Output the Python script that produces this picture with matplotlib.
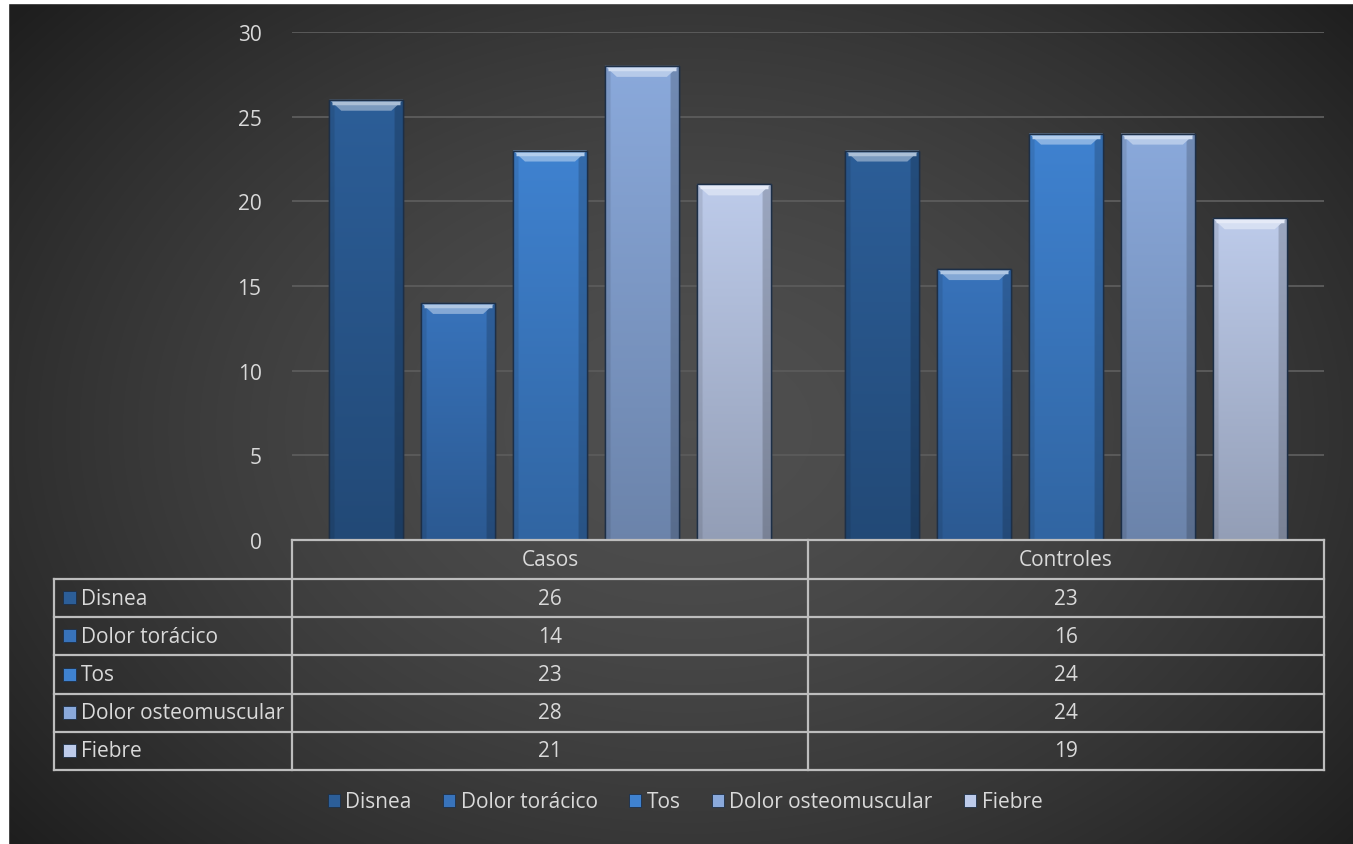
import numpy as np
import matplotlib
matplotlib.use("Agg")
import matplotlib.pyplot as plt
from matplotlib.patches import Rectangle, Polygon
from matplotlib.lines import Line2D

# ---------------- data ----------------
categories = ["Casos", "Controles"]
series_names = ["Disnea", "Dolor torácico", "Tos", "Dolor osteomuscular", "Fiebre"]
disnea = [26, 23]
dolor_toracico = [14, 16]
tos = [23, 24]
dolor_osteomuscular = [28, 24]
fiebre = [21, 19]
series_values = [disnea, dolor_toracico, tos, dolor_osteomuscular, fiebre]
series_colors = ["#2c5e98", "#3873bb", "#3f82d0", "#8aa9db", "#bdcbea"]
y_ticks = [0, 5, 10, 15, 20, 25, 30]

W, H = 1353, 845
DPI = 100
TXT = "#d9d9d9"
LINE = "#bdbdbd"
FONT = "Open Sans"
FS = 15

plt.rcParams["font.family"] = [FONT, "DejaVu Sans"]

fig = plt.figure(figsize=(W / DPI, H / DPI), dpi=DPI)

# ---------------- background (radial gradient) ----------------
bg = fig.add_axes([0, 0, 1, 1], zorder=-5)
yy, xx = np.mgrid[0:H, 0:W]
cx, cy = 690, 430
r = np.sqrt(((xx - cx) / 820.0) ** 2 + ((yy - cy) / 600.0) ** 2)
lum = 0.31 - 0.17 * np.clip(r, 0, 1.25) ** 1.6
lum = np.clip(lum, 0.12, 0.32)
img = np.dstack([lum, lum, lum])
bg.imshow(img, extent=[0, W, H, 0], aspect="auto", interpolation="bilinear")
bg.add_patch(Rectangle((0, 0), 8, H, color="white", zorder=3))
bg.add_patch(Rectangle((0, 0), W, 4, color="white", zorder=3))
bg.set_xlim(0, W)
bg.set_ylim(H, 0)
bg.axis("off")

# ---------------- main axes ----------------
px_left, px_right, px_top, px_bottom = 292, 1324, 33, 541
ax = fig.add_axes([px_left / W, 1 - px_bottom / H,
                   (px_right - px_left) / W, (px_bottom - px_top) / H])
ax.set_facecolor("none")
ax.set_xlim(-0.5, 1.5)
ax.set_ylim(0, 30)
for s in ax.spines.values():
    s.set_visible(False)
ax.set_yticks(y_ticks)
ax.set_yticklabels([str(t) for t in y_ticks], color=TXT, fontsize=FS)
ax.tick_params(axis="y", length=0, pad=22)
ax.set_xticks([])
ax.yaxis.grid(True, color="#5a5a5a", linewidth=1.4)
ax.set_axisbelow(True)

x = np.arange(len(categories))
step = 0.178
width = 0.1435
units_per_px_y = 30.0 / (px_bottom - px_top)
units_per_px_x = 2.0 / (px_right - px_left)


def tint(c, f):
    c = np.array(matplotlib.colors.to_rgb(c))
    return np.clip(c + (1 - c) * f, 0, 1)


for i, (vals, col) in enumerate(zip(series_values, series_colors)):
    xs = x + (i - 2) * step
    bars = ax.bar(xs, vals, width=width, color=col, edgecolor="#1d2f47",
                  linewidth=1.0, zorder=2)
    for b in bars:
        x0, w_, h_ = b.get_x(), b.get_width(), b.get_height()
        ny, nx = 60, 40
        v = np.linspace(1.0, 0.78, ny)[:, None]
        hx = np.ones(nx)
        hx[:3] = 0.9
        hx[-5:] = 0.82
        fac = v * hx[None, :]
        base = np.array(matplotlib.colors.to_rgb(col))
        grad = np.clip(base[None, None, :] * fac[:, :, None], 0, 1)
        im = ax.imshow(grad, extent=[x0, x0 + w_, 0, h_], aspect="auto",
                       interpolation="bilinear", zorder=2.1)
        im.set_clip_path(b)
        dx = 12 * units_per_px_x
        dy = 11 * units_per_px_y
        top = Polygon([(x0, h_), (x0 + w_, h_), (x0 + w_ - dx, h_ - dy),
                       (x0 + dx, h_ - dy)], closed=True,
                      facecolor=tint(col, 0.38), edgecolor="none", zorder=2.2)
        ax.add_patch(top)
        ax.plot([x0 + 3 * units_per_px_x, x0 + w_ - 3 * units_per_px_x],
                [h_ - 3 * units_per_px_y] * 2, color=tint(col, 0.6),
                linewidth=2.5, zorder=2.3, solid_capstyle="butt")
        ax.add_patch(Rectangle((x0, 0), w_, h_, facecolor="none",
                               edgecolor="#1d2f47", linewidth=1.0, zorder=2.4))
ax.set_xlim(-0.5, 1.5)
ax.set_ylim(0, 30)

# ---------------- data table ----------------
fig.canvas.draw()
bx = [ax.transData.transform((xv, 0))[0] for xv in (-0.5, 0.5, 1.5)]


def fx(px):
    return px / W


def fy(py):
    return 1 - py / H


tbl_left = 54
row_h = 38.2
header_top = px_bottom
header_bot = header_top + 39
rows_top = header_bot
n_rows = len(series_names)
tbl_bottom = rows_top + n_rows * row_h
lw = 1.6


def hline(x0, x1, y):
    fig.add_artist(Line2D([fx(x0), fx(x1)], [fy(y), fy(y)], color=LINE,
                          linewidth=lw, transform=fig.transFigure))


def vline(x_, y0, y1):
    fig.add_artist(Line2D([fx(x_), fx(x_)], [fy(y0), fy(y1)], color=LINE,
                          linewidth=lw, transform=fig.transFigure))


hline(bx[0], bx[2], header_top)
for k in range(n_rows + 1):
    hline(tbl_left, bx[2], rows_top + k * row_h)
vline(tbl_left, rows_top, tbl_bottom)
for b_ in bx:
    vline(b_, header_top, tbl_bottom)

for j, cat in enumerate(categories):
    cxp = (bx[j] + bx[j + 1]) / 2
    fig.text(fx(cxp), fy((header_top + header_bot) / 2), cat, color=TXT,
             fontsize=FS, ha="center", va="center")

for k, (name, vals, col) in enumerate(zip(series_names, series_values, series_colors)):
    ymid = rows_top + (k + 0.5) * row_h
    fig.add_artist(Rectangle((fx(63), fy(ymid + 6)), 13 / W, 13 / H,
                             facecolor=col, edgecolor="#1d2f47", linewidth=0.6,
                             transform=fig.transFigure))
    fig.text(fx(81), fy(ymid), name, color=TXT, fontsize=FS, ha="left",
             va="center")
    for j, v in enumerate(vals):
        cxp = (bx[j] + bx[j + 1]) / 2
        fig.text(fx(cxp), fy(ymid), str(v), color=TXT, fontsize=FS,
                 ha="center", va="center")

# ---------------- legend ----------------
handles = [Rectangle((0, 0), 1, 1, facecolor=c, edgecolor="#1d2f47", linewidth=0.6)
           for c in series_colors]
leg = fig.legend(handles, series_names, loc="center", ncol=5,
                 bbox_to_anchor=(fx(685), fy(803)), frameon=False,
                 fontsize=FS, labelcolor=TXT, handlelength=0.6,
                 handleheight=0.6, handletextpad=0.25, columnspacing=1.5)

fig.savefig("out.png", dpi=DPI)
